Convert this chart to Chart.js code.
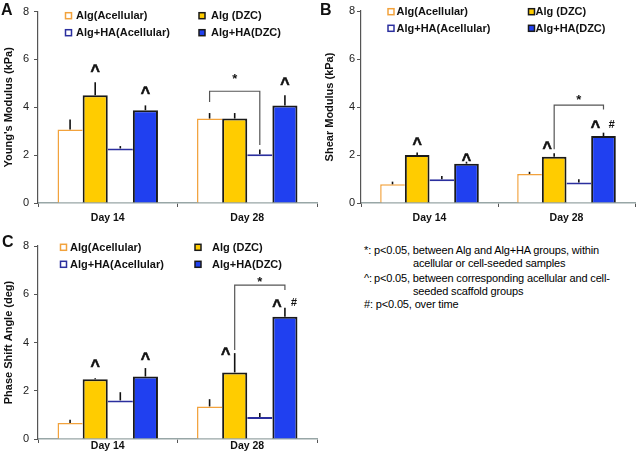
<!DOCTYPE html>
<html>
<head>
<meta charset="utf-8">
<script src="https://cdn.jsdelivr.net/npm/chart.js@4.4.1/dist/chart.umd.min.js"></script>
<style>
  html, body { margin: 0; padding: 0; background: #fff; }
  body { width: 637px; height: 461px; position: relative; overflow: hidden; font-family: "Liberation Sans", Arial, sans-serif; color: #111; }
  .panel { position: absolute; }
  .letter { position: absolute; font-weight: bold; font-size: 16px; line-height: 16px; }
  .note { position: absolute; font-size: 11px; line-height: 12px; white-space: nowrap; letter-spacing: -0.15px; color: #000; }
</style>
</head>
<body>
<div class="panel" style="left:0;top:0"><canvas id="chartA" width="318" height="230"></canvas></div>
<div class="panel" style="left:318px;top:0"><canvas id="chartB" width="319" height="230"></canvas></div>
<div class="panel" style="left:0;top:230px"><canvas id="chartC" width="318" height="231"></canvas></div>

<div class="letter" style="left:1px;top:2px">A</div>
<div class="letter" style="left:320px;top:2px">B</div>
<div class="letter" style="left:2px;top:234px">C</div>

<div class="note" style="left:364px;top:244px">*:</div>
<div class="note" style="left:374px;top:244px">p&lt;0.05, between Alg and Alg+HA groups, within</div>
<div class="note" style="left:413px;top:257px">acellular or cell-seeded samples</div>
<div class="note" style="left:364px;top:272px">^:</div>
<div class="note" style="left:374px;top:272px">p&lt;0.05, between corresponding acellular and cell-</div>
<div class="note" style="left:413px;top:285px">seeded scaffold groups</div>
<div class="note" style="left:364px;top:298px">#: p&lt;0.05, over time</div>

<script>
const categories = ["Day 14", "Day 28"]
const groups = ["Alg(Acellular)", "Alg (DZC)", "Alg+HA(Acellular)", "Alg+HA(DZC)"]
const yTicks = [0, 2, 4, 6, 8]

// one row per group, [Day 14, Day 28]
const youngMean = [[3.07, 3.53], [4.5, 3.53], [2.28, 2.04], [3.88, 4.08]]
const youngErr = [[0.42, 0.23], [0.55, 0.23], [0.1, 0.2], [0.2, 0.42]]
const shearMean = [[0.78, 1.21], [2.0, 1.93], [0.99, 0.85], [1.64, 2.79]]
const shearErr = [[0.11, 0.09], [0.1, 0.14], [0.13, 0.14], [0.08, 0.14]]
const phaseMean = [[0.66, 1.35], [2.48, 2.76], [1.6, 0.91], [2.59, 5.07]]
const phaseErr = [[0.14, 0.3], [0.04, 0.8], [0.34, 0.17], [0.35, 0.37]]

// significance marks: [group, day, y value, x shift]
const youngCarets = [[1, 0, 5.68, 0], [3, 0, 4.74, 0], [3, 1, 5.13, 0]]
const shearCarets = [[1, 0, 2.63, 0], [3, 0, 1.96, 0], [1, 1, 2.46, -7], [3, 1, 3.32, -8]]
const phaseCarets = [[1, 0, 3.19, 0], [3, 0, 3.49, 0], [1, 1, 3.69, -9], [3, 1, 5.68, -8]]
const shearHash = [[3, 1, 3.32, 8]]
const phaseHash = [[3, 1, 5.68, 9]]
// bracket: from bar, to bar, top, from leg end, to leg end, star value
const youngBracket = [[0, 1], [2, 1], 4.67, 4.22, 2.42, 5.33]
const shearBracket = [[1, 1], [3, 1], 4.08, 2.24, 3.9, 4.43]
const phaseBracket = [[1, 1], [3, 1], 6.38, 3.69, 6.18, 6.66]

const ORANGE = "#f2a23c"
const YELLOW = "#ffcc00"
const NAVY = "#2b2f9e"
const BLUE = "#2040f0"
const DARK = "#1a1a1a"

const barStyles = [
  { backgroundColor: "#ffffff", borderColor: ORANGE, borderWidth: { top: 1.5, left: 1.5, right: 0, bottom: 0 } },
  { backgroundColor: YELLOW, borderColor: DARK, borderWidth: { top: 2, left: 2, right: 2, bottom: 0 } },
  { backgroundColor: "#ffffff", borderColor: NAVY, borderWidth: { top: 2, left: 0, right: 0, bottom: 0 } },
  { backgroundColor: BLUE, borderColor: DARK, borderWidth: { top: 2, left: 2, right: 2, bottom: 0 } },
]

const FONT = "'Liberation Sans', Arial, sans-serif"

const annotate = {
  id: "annotate",
  afterDatasetsDraw(chart, args, opts) {
    const ctx = chart.ctx
    const ys = chart.scales.y
    const bar = (g, d) => chart.getDatasetMeta(g).data[d]
    ctx.save()

    // upper error bars
    ctx.strokeStyle = "#111"
    ctx.lineWidth = 1.6
    opts.errors.forEach((row, g) => row.forEach((e, d) => {
      const b = bar(g, d)
      ctx.beginPath()
      ctx.moveTo(b.x, b.y)
      ctx.lineTo(b.x, ys.getPixelForValue(opts.means[g][d] + e))
      ctx.stroke()
    }))

    // bracket with star
    const [from, to, top, fromEnd, toEnd, star] = opts.bracket
    const x1 = bar(from[0], from[1]).x
    const x2 = bar(to[0], to[1]).x
    ctx.strokeStyle = "#555"
    ctx.lineWidth = 1.2
    ctx.beginPath()
    ctx.moveTo(x1, ys.getPixelForValue(fromEnd))
    ctx.lineTo(x1, ys.getPixelForValue(top))
    ctx.lineTo(x2, ys.getPixelForValue(top))
    ctx.lineTo(x2, ys.getPixelForValue(toEnd))
    ctx.stroke()

    ctx.fillStyle = "#111"
    ctx.textAlign = "center"
    ctx.textBaseline = "alphabetic"
    ctx.font = "bold 13px " + FONT
    ctx.fillText("*", (x1 + x2) / 2, ys.getPixelForValue(star) + 0.58 * 13)

    ctx.font = "bold 16px " + FONT
    ctx.strokeStyle = "#111"
    ctx.lineWidth = 0.6
    opts.carets.forEach(([g, d, v, dx]) => {
      const cx = bar(g, d).x + dx
      const cy = ys.getPixelForValue(v) + 0.55 * 16
      ctx.fillText("^", cx, cy)
      ctx.strokeText("^", cx, cy)
    })
    ctx.font = "italic bold 11px " + FONT
    opts.hashes.forEach(([g, d, v, dx]) => {
      ctx.fillText("#", bar(g, d).x + dx, ys.getPixelForValue(v) + 0.38 * 11)
    })
    ctx.restore()
  },
  afterDraw(chart, args, opts) {
    // two-column legend inside the plot
    const ctx = chart.ctx
    const L = opts.legend
    ctx.save()
    ctx.font = "bold 11px " + FONT
    ctx.textAlign = "left"
    ctx.textBaseline = "middle"
    groups.forEach((name, i) => {
      const col = i % 2
      const row = Math.floor(i / 2)
      const mx = L.marks[col]
      const my = L.rows[row]
      const st = barStyles[i]
      ctx.fillStyle = st.backgroundColor
      ctx.fillRect(mx - 3, my - 3, 6, 6)
      ctx.strokeStyle = i === 0 ? ORANGE : i === 2 ? NAVY : DARK
      ctx.lineWidth = 1.5
      ctx.strokeRect(mx - 3, my - 3, 6, 6)
      ctx.fillStyle = "#111"
      ctx.fillText(name, L.texts[col], my + 0.5)
    })
    ctx.restore()
  }
}

function makePanel(id, cfg) {
  const datasets = groups.map((name, g) => ({
    label: name,
    data: cfg.means[g],
    ...barStyles[g],
    borderSkipped: false,
    categoryPercentage: 0.72,
    barPercentage: 1.0,
  }))

  return new Chart(document.getElementById(id), {
    type: "bar",
    data: { labels: categories, datasets },
    options: {
      responsive: false,
      animation: false,
      events: [],
      layout: { padding: { top: cfg.top, right: cfg.right, left: 0, bottom: 0 } },
      plugins: {
        legend: { display: false },
        tooltip: { enabled: false },
        annotate: {
          means: cfg.means,
          errors: cfg.errors,
          carets: cfg.carets,
          hashes: cfg.hashes,
          bracket: cfg.bracket,
          legend: cfg.legend,
        },
      },
      scales: {
        x: {
          afterFit: (s) => { s.height = cfg.xHeight },
          border: { color: "#98a6a6", width: 1.5 },
          grid: { drawOnChartArea: false, drawTicks: true, tickLength: 4, color: "#555", offset: true },
          ticks: { color: "#111", padding: cfg.xPad, font: { family: FONT, size: 10.5, weight: "bold" } },
        },
        y: {
          min: 0,
          max: 8,
          afterFit: (s) => { s.width = cfg.yWidth },
          afterBuildTicks: (s) => { s.ticks = yTicks.map((v) => ({ value: v })) },
          border: { color: "#555", width: 1.2 },
          grid: { drawOnChartArea: false, drawTicks: true, tickLength: 4, color: "#555" },
          ticks: { color: "#222", padding: cfg.yPad, font: { family: FONT, size: 11 } },
          title: {
            display: true,
            text: cfg.title,
            color: "#111",
            padding: { top: cfg.titlePad, bottom: 0 },
            font: { family: FONT, size: 11, weight: "bold" },
          },
        },
      },
    },
    plugins: [annotate],
  })
}

makePanel("chartA", {
  title: "Young's Modulus (kPa)",
  means: youngMean, errors: youngErr,
  carets: youngCarets, hashes: [], bracket: youngBracket,
  top: 11, right: 1, xHeight: 27, yWidth: 38, yPad: 5, xPad: 5, titlePad: 2,
  legend: { marks: [68.5, 202], texts: [76, 211], rows: [15.7, 32.7] },
})

makePanel("chartB", {
  title: "Shear Modulus (kPa)",
  means: shearMean, errors: shearErr,
  carets: shearCarets, hashes: shearHash, bracket: shearBracket,
  top: 11, right: 2, xHeight: 27, yWidth: 43, yPad: 2, xPad: 5, titlePad: 5,
  legend: { marks: [73, 213.5], texts: [78.5, 217.5], rows: [11.7, 28.3] },
})

makePanel("chartC", {
  title: "Phase Shift Angle (deg)",
  means: phaseMean, errors: phaseErr,
  carets: phaseCarets, hashes: phaseHash, bracket: phaseBracket,
  top: 16, right: 1, xHeight: 22, yWidth: 38, yPad: 5, xPad: -3, titlePad: 2,
  legend: { marks: [63.5, 198], texts: [70, 212], rows: [17.3, 34.3] },
})
</script>
</body>
</html>
